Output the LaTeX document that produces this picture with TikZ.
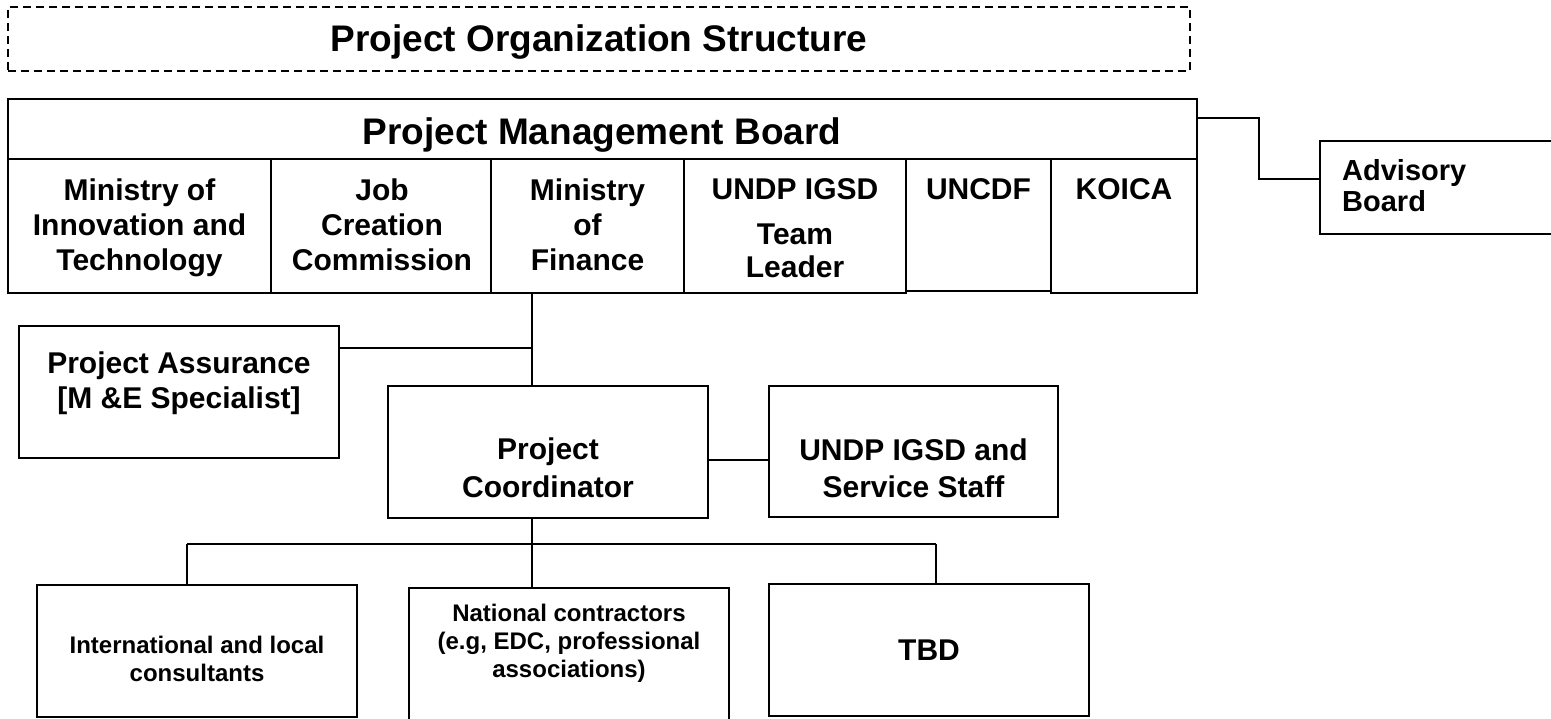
\documentclass[tikz,border=0pt]{standalone}
\usepackage{fontspec}
\setmainfont{Liberation Sans}
\newcommand{\cochu}[2]{\fontsize{#1}{#2}\selectfont\bfseries}
\begin{document}
\begin{tikzpicture}[x=1pt, y=-1pt,
    hop/.style={draw, line width=2pt, inner sep=0pt},
    chu/.style={inner sep=0pt, align=center, anchor=north},
    noi/.style={line width=1.8pt}]
    % 0. Khung hình
    \useasboundingbox (0,0) rectangle (1551,719);

    % 1. Tiêu đề (khung nét đứt)
    \node[hop, dash pattern=on 8pt off 5pt, minimum width=1182pt, minimum height=64pt] (tieude) at (599,39) {};
    \node[anchor=base, inner sep=0pt, font=\cochu{37}{44}] (tieudechu) at (599,52) {Project Organization Structure};

    % 2. Ban quản lý dự án và các cột thành viên
    \node[hop, minimum width=1189pt, minimum height=60pt] (pmb) at (602.5,129) {};
    \node[anchor=base, inner sep=0pt, font=\cochu{37}{44}] (pmbchu) at (602,145) {Project Management Board};

    \node[hop, minimum width=263pt, minimum height=134pt] (mit) at (139.5,226) {};
    \node[hop, minimum width=220pt, minimum height=134pt] (jcc) at (381,226) {};
    \node[hop, minimum width=193pt, minimum height=134pt] (mof) at (587.5,226) {};
    \node[hop, minimum width=222pt, minimum height=134pt] (undp) at (795,226) {};
    \node[hop, minimum width=145pt, minimum height=132pt] (uncdf) at (978.5,225) {};
    \node[hop, minimum width=146pt, minimum height=134pt] (koica) at (1124,226) {};

    \node[chu, font=\cochu{30}{35}] (mitchu) at (139.5,178.4) {Ministry of\\Innovation and\\Technology};
    \node[chu, font=\cochu{30}{35}] (jccchu) at (382,178.4) {Job\\Creation\\Commission};
    \node[chu, font=\cochu{30}{35}] (mofchu) at (587.5,178.4) {Ministry\\of\\Finance};
    \node[anchor=base, inner sep=0pt, font=\cochu{30}{35}] (undpchu) at (795,200) {UNDP IGSD};
    \node[chu, font=\cochu{30}{33}] (tlchu) at (795,223.4) {Team\\Leader};
    \node[anchor=base, inner sep=0pt, font=\cochu{30}{35}] (uncdfchu) at (978.5,200) {UNCDF};
    \node[anchor=base, inner sep=0pt, font=\cochu{30}{35}] (koicachu) at (1124,200) {KOICA};

    % 3. Hội đồng tư vấn
    \node[hop, minimum width=300pt, minimum height=93pt] (adv) at (1470,187.5) {};
    \node[chu, anchor=north west, align=left, font=\cochu{29}{31}] (advchu) at (1342,159) {Advisory\\Board};

    % 4. Các khối giữa
    \node[hop, minimum width=320pt, minimum height=132pt] (assur) at (179,392) {};
    \node[chu, font=\cochu{30}{35}] (assurchu) at (179,351.4) {Project Assurance\\{[M \&E Specialist]}};

    \node[hop, minimum width=320pt, minimum height=132pt] (coord) at (548,452) {};
    \node[chu, font=\cochu{30}{38}] (coordchu) at (548,437.4) {Project\\Coordinator};

    \node[hop, minimum width=289pt, minimum height=131pt] (staff) at (913.5,451.5) {};
    \node[chu, font=\cochu{30}{37}] (staffchu) at (913.5,438.4) {UNDP IGSD and\\Service Staff};

    % 5. Các khối dưới
    \node[hop, minimum width=320pt, minimum height=132pt] (consult) at (197,651) {};
    \node[chu, font=\cochu{24}{28}] (consultchu) at (197,635.7) {International and local\\consultants};

    \node[hop, minimum width=320pt, minimum height=152pt] (natl) at (569,664) {};
    \node[chu, font=\cochu{24}{28}] (natlchu) at (569,603.7) {National contractors\\(e.g, EDC, professional\\associations)};

    \node[hop, minimum width=320pt, minimum height=132pt] (tbd) at (929,650) {};
    \node[anchor=base, inner sep=0pt, font=\cochu{30}{35}] (tbdchu) at (929,660) {TBD};

    % 6. Đường nối
    \draw[noi] ([yshift=11pt]pmb.east) -- ++(61,0) |- ([yshift=8.5pt]adv.west);

    \coordinate (re) at (532,348);
    \draw[noi] (mof.south -| re) -- (re |- coord.north);
    \draw[noi] (assur.east |- re) -- (re);
    \draw[noi] ([yshift=-8pt]coord.east) -- ([yshift=-8pt]coord.east -| staff.west);

    \coordinate (nhanh) at (532,544);
    \coordinate (nhanhT) at (187,544);
    \coordinate (nhanhP) at (936,544);
    \draw[noi] (coord.south -| nhanh) -- (nhanh);
    \draw[noi] (nhanhT) -- (nhanhP);
    \draw[noi] (nhanhT) -- (nhanhT |- consult.north);
    \draw[noi] (nhanh) -- (nhanh |- natl.north);
    \draw[noi] (nhanhP) -- (nhanhP |- tbd.north);
\end{tikzpicture}
\end{document}
